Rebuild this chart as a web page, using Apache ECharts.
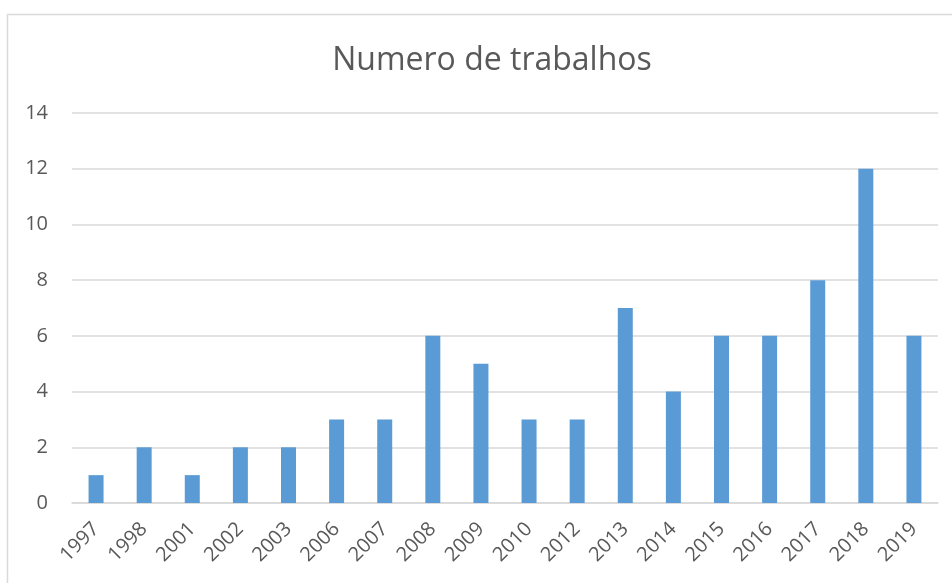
<!DOCTYPE html>
<html>
<head>
<meta charset="utf-8">
<script src="https://cdn.jsdelivr.net/npm/echarts@6/dist/echarts.min.js"></script>
<style>
  html, body { margin: 0; padding: 0; background: #fff; }
  #chart { width: 952px; height: 583px; }
</style>
</head>
<body>
<div id="chart"></div>
<script>
// dados
const anos = ['1997', '1998', '2001', '2002', '2003', '2006', '2007', '2008', '2009',
  '2010', '2012', '2013', '2014', '2015', '2016', '2017', '2018', '2019']
const trabalhos = [1, 2, 1, 2, 2, 3, 3, 6, 5, 3, 3, 7, 4, 6, 6, 8, 12, 6]
const yTicks = [0, 2, 4, 6, 8, 10, 12, 14]

const textColor = '#595959'
const fontFamily = '"Open Sans", "Liberation Sans", sans-serif'

const chart = echarts.init(document.getElementById('chart'))

chart.setOption({
  animation: false,
  title: {
    text: 'Numero de trabalhos',
    left: 487,
    textAlign: 'center',
    top: 40,
    textStyle: { color: textColor, fontSize: 32, fontWeight: 'normal', fontFamily: fontFamily }
  },
  graphic: [{
    type: 'rect',
    shape: { x: 7.5, y: 14.5, width: 1000, height: 700 },
    style: { fill: 'none', stroke: '#d9d9d9', lineWidth: 1.5 },
    silent: true
  }],
  grid: { left: 72, right: 14, top: 113, bottom: 80 },
  xAxis: {
    type: 'category',
    data: anos,
    axisTick: { show: false },
    axisLine: { lineStyle: { color: '#d9d9d9', width: 1.5 } },
    axisLabel: {
      rotate: 45,
      color: textColor,
      fontSize: 20,
      fontFamily: fontFamily,
      interval: 0,
      margin: 23
    }
  },
  yAxis: {
    type: 'value',
    min: yTicks[0],
    max: yTicks[yTicks.length - 1],
    interval: 2,
    axisLine: { show: false },
    axisTick: { show: false },
    splitLine: { lineStyle: { color: '#d9d9d9', width: 1.5 } },
    axisLabel: { color: textColor, fontSize: 20, fontFamily: fontFamily, margin: 24 }
  },
  series: [{
    type: 'bar',
    data: trabalhos,
    barWidth: 15,
    itemStyle: { color: '#5b9bd5' }
  }]
})
</script>
</body>
</html>
